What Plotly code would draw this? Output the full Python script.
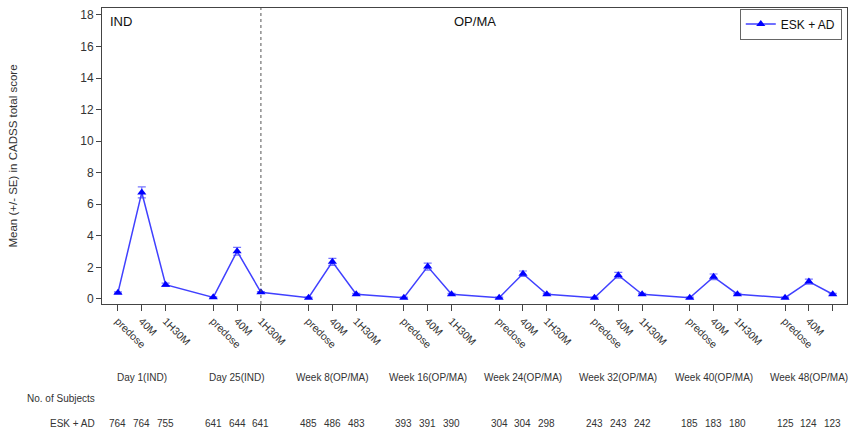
import plotly.graph_objects as go

groups = ["Day 1(IND)", "Day 25(IND)", "Week 8(OP/MA)", "Week 16(OP/MA)",
          "Week 24(OP/MA)", "Week 32(OP/MA)", "Week 40(OP/MA)", "Week 48(OP/MA)"]
timepoints = ["predose", "40M", "1H30M"]
means = [0.40, 6.75, 0.90,
         0.10, 3.02, 0.42,
         0.08, 2.35, 0.30,
         0.08, 2.05, 0.30,
         0.08, 1.60, 0.30,
         0.08, 1.50, 0.30,
         0.08, 1.40, 0.30,
         0.08, 1.10, 0.30]
se = [0.05, 0.35, 0.10,
      0.03, 0.25, 0.05,
      0.03, 0.22, 0.05,
      0.03, 0.22, 0.05,
      0.03, 0.17, 0.05,
      0.03, 0.18, 0.05,
      0.03, 0.18, 0.05,
      0.03, 0.16, 0.05]
n_subjects = [764, 764, 755, 641, 644, 641, 485, 486, 483, 393, 391, 390,
              304, 304, 298, 243, 243, 242, 185, 183, 180, 125, 124, 123]

xs = []
labels = []
for g in range(len(groups)):
    for i, t in enumerate(timepoints):
        xs.append(4 * g + i)
        labels.append(t)

font_fam = "Liberation Sans, Arial, sans-serif"
txt_col = "#333333"

fig = go.Figure()
fig.add_trace(go.Scatter(
    x=xs, y=means, mode="lines+markers", name="ESK + AD",
    line=dict(color="#4040ff", width=1.5),
    marker=dict(symbol="triangle-up", size=8, color="#0000ff"),
    error_y=dict(type="data", array=se, visible=True, color="rgba(60,60,255,0.7)",
                 thickness=1.2, width=4),
))

fig.add_shape(type="line", x0=6, x1=6, y0=0, y1=1, xref="x", yref="paper",
              line=dict(color="#555555", width=1, dash="dot"))

# plot area: top 8, bottom 304 -> height 296
H = 296.0
def py(pix):
    return (304 - pix) / H

anns = []
anns.append(dict(x=0.008, y=0.985, xref="paper", yref="paper", text="IND", showarrow=False,
                 xanchor="left", yanchor="top", font=dict(size=13, color="#111111", family=font_fam)))
anns.append(dict(x=15, y=0.985, xref="x", yref="paper", text="OP/MA", showarrow=False,
                 xanchor="center", yanchor="top", font=dict(size=13, color="#111111", family=font_fam)))
for g, name in enumerate(groups):
    anns.append(dict(x=4 * g + 1, y=py(377), xref="x", yref="paper", text=name, showarrow=False,
                     xanchor="center", yanchor="middle", font=dict(size=10, color=txt_col, family=font_fam)))
anns.append(dict(x=-0.007, y=py(398), xref="paper", yref="paper", text="No. of Subjects", showarrow=False,
                 xanchor="right", yanchor="middle", font=dict(size=10, color=txt_col, family=font_fam)))
anns.append(dict(x=-0.007, y=py(423), xref="paper", yref="paper", text="ESK + AD", showarrow=False,
                 xanchor="right", yanchor="middle", font=dict(size=10, color=txt_col, family=font_fam)))
for xv, n in zip(xs, n_subjects):
    anns.append(dict(x=xv, y=py(423), xref="x", yref="paper", text=str(n), showarrow=False,
                     xanchor="center", yanchor="middle", font=dict(size=10, color=txt_col, family=font_fam)))

fig.update_layout(
    width=850, height=433,
    margin=dict(l=102, r=3, t=8, b=129),
    paper_bgcolor="white", plot_bgcolor="white",
    font=dict(family=font_fam, size=11, color=txt_col),
    showlegend=True,
    legend=dict(x=0.993, y=0.998, xanchor="right", yanchor="top",
                bordercolor="#666666", borderwidth=1, bgcolor="white",
                font=dict(size=12, color="#111111"), itemwidth=30,
                tracegroupgap=0),
    annotations=anns,
)
fig.update_xaxes(
    range=[-0.67, 30.6], tickmode="array", tickvals=xs, ticktext=labels,
    tickangle=45, ticks="outside", ticklen=6, tickcolor="#444444",
    showline=True, linecolor="#444444", linewidth=1, mirror=True,
    showgrid=False, zeroline=False, tickfont=dict(size=10.5, color=txt_col),
)
fig.update_yaxes(
    range=[-0.32, 18.44], tickmode="array", tickvals=list(range(0, 19, 2)),
    ticks="outside", ticklen=5, tickcolor="#444444",
    showline=True, linecolor="#444444", linewidth=1, mirror=True,
    showgrid=False, zeroline=False, tickfont=dict(size=12, color=txt_col),
    title=dict(text="Mean (+/- SE) in CADSS total score", font=dict(size=11.5, color=txt_col), standoff=60),
)

fig.write_html("out.html", config={"displayModeBar": False},
               post_script="document.body.style.margin='0';document.body.style.overflow='hidden';")
